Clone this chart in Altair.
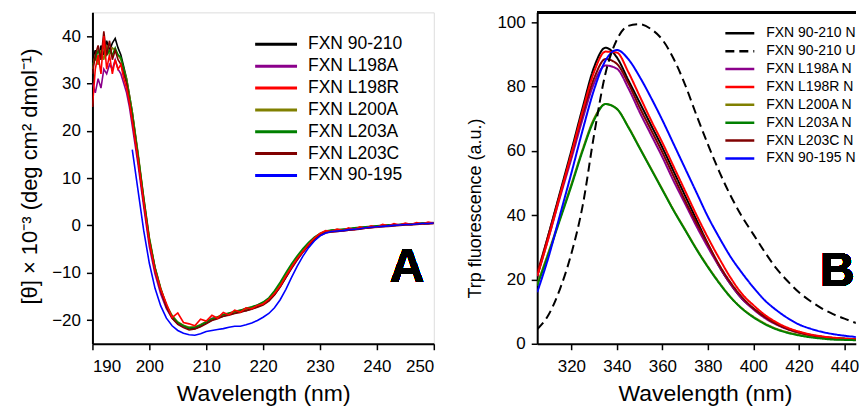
import altair as alt
import pandas as pd

FONT = "Liberation Sans"

# ---------------- Panel A : CD spectra ----------------
cd_nm = [190.0, 190.5, 191.0, 191.5, 192.0, 192.5, 193.0, 193.5, 194.0, 194.5,
         195.0, 195.5, 196.0, 196.5, 197.0,
         198, 199, 200, 201, 202, 203, 204, 205, 206, 207, 208, 209, 210, 211, 212,
         213, 214, 215, 216, 217, 218, 219, 220, 221, 222, 223, 224, 225, 226, 227,
         228, 229, 230, 231, 232, 233, 234, 235, 236, 237, 238, 239, 240, 241, 242,
         243, 244, 245, 246, 247, 248, 249, 250]

cd_90_210 = [35, 37, 34, 38, 36, 39, 37, 38.5, 39.5, 37.5, 36, 33.5, 31, 27.5, 24,
             15, 5.5, -3, -9, -13.5, -17, -19.3, -20.6, -21.3, -21.8, -21.8, -21.3, -20.6, -20, -19.5,
             -19.2, -18.8, -18.5, -18.2, -18, -17.6, -17.2, -16.6, -15.9, -14.6, -12.9, -10.9, -8.9, -7.1, -5.5,
             -4.1, -2.9, -1.9, -1.3, -1.1, -1.0, -0.9, -0.8, -0.6, -0.5, -0.4, -0.3, -0.2, -0.1, 0,
             0.1, 0.2, 0.3, 0.3, 0.4, 0.5, 0.5, 0.6]
cd_l198a = [30, 28, 31, 29, 33, 32, 34, 33, 35, 33, 32, 30, 28, 25, 21,
            13, 4, -4.5, -10.3, -14.5, -17.6, -19.6, -20.8, -21.4, -21.5, -21.6, -21.0, -20.4, -19.6, -19.4,
            -18.9, -18.7, -18.2, -18.0, -17.6, -17.4, -16.8, -16.4, -15.7, -14.6, -13.0, -11.0, -9.1, -7.3, -5.7,
            -4.3, -3.1, -2.2, -1.6, -1.4, -1.3, -1.2, -1.0, -0.9, -0.7, -0.6, -0.5, -0.3, -0.2, -0.1,
            0.0, 0.1, 0.2, 0.2, 0.3, 0.3, 0.4, 0.4]
cd_l198r = [25, 33, 36, 32, 40, 33, 36, 32, 35, 33, 34, 31, 29, 26, 22,
            14, 5, -3.5, -9.5, -13.5, -16.5, -19.5, -18.5, -20.5, -20.8, -21.2, -19.8, -20.2, -19.0, -19.6,
            -18.4, -18.9, -17.9, -18.3, -17.4, -17.6, -16.9, -16.6, -15.6, -14.4, -12.8, -10.7, -8.8, -7.0, -5.5,
            -4.0, -2.7, -1.7, -1.1, -1.3, -0.8, -1.1, -0.5, -0.9, -0.3, -0.6, -0.1, -0.4, 0.2, -0.1,
            0.4, 0.1, 0.5, 0.2, 0.6, 0.3, 0.7, 0.5]
cd_l200a = [33, 36, 34, 37, 35, 38, 36, 37.5, 37, 36, 35, 33, 31, 27.5, 24,
            15.5, 6, -2.5, -8.8, -13.2, -16.8, -19.0, -20.4, -21.1, -21.5, -21.4, -21.0, -20.3, -19.8, -19.3,
            -18.9, -18.6, -18.3, -18.0, -17.7, -17.3, -16.9, -16.3, -15.5, -14.1, -12.4, -10.4, -8.5, -6.7, -5.2,
            -3.8, -2.7, -1.8, -1.3, -1.1, -1.0, -0.9, -0.7, -0.6, -0.5, -0.4, -0.3, -0.2, -0.1, 0.0,
            0.1, 0.1, 0.2, 0.3, 0.3, 0.4, 0.4, 0.5]
cd_l203a = [34, 35, 37, 35, 38, 36, 37, 36, 37.5, 36, 35.5, 33, 30.5, 27, 23.5,
            15, 6, -2.8, -9.0, -13.4, -16.9, -19.2, -20.5, -21.2, -21.7, -21.5, -21.1, -20.4, -19.7, -19.4,
            -18.8, -18.5, -18.2, -17.9, -17.5, -17.2, -16.8, -16.2, -15.3, -13.8, -12.0, -10.0, -8.1, -6.4, -4.9,
            -3.6, -2.5, -1.7, -1.2, -1.0, -0.9, -0.8, -0.7, -0.5, -0.4, -0.3, -0.2, -0.1, 0.0, 0.1,
            0.1, 0.2, 0.3, 0.3, 0.4, 0.4, 0.5, 0.5]
cd_l203c = [32, 36, 38, 35, 41, 36, 39, 35, 37, 35, 34, 32, 30, 26, 22.5,
            14, 5, -3.5, -9.5, -13.8, -17.3, -19.6, -20.9, -21.6, -22.1, -21.9, -21.4, -20.8, -20.1, -19.7,
            -19.2, -19.0, -18.6, -18.4, -18.0, -17.7, -17.3, -16.8, -16.0, -14.7, -13.0, -11.0, -9.0, -7.2, -5.6,
            -4.2, -3.0, -2.0, -1.5, -1.4, -1.3, -1.2, -1.0, -0.9, -0.8, -0.6, -0.5, -0.4, -0.3, -0.2,
            -0.1, 0.0, 0.1, 0.1, 0.2, 0.3, 0.3, 0.4]

cd_nm_195 = [197, 198, 199, 200, 201, 202, 203, 204, 205, 206, 207, 208, 209, 210, 211,
             212, 213, 214, 215, 216, 217, 218, 219, 220, 221, 222, 223, 224, 225, 226,
             227, 228, 229, 230, 231, 232, 233, 234, 235, 236, 237, 238, 239, 240, 241,
             242, 243, 244, 245, 246, 247, 248, 249, 250]
cd_90_195 = [16, 7.5, -1, -8, -13.3, -17, -19.6, -21.2, -22.2, -22.8, -23.1, -23.2, -22.9, -22.4, -22.2,
             -22.0, -21.8, -21.5, -21.3, -21.3, -21.0, -20.6, -20.1, -19.4, -18.6, -17.4, -15.7, -13.5, -11.0, -8.6,
             -6.5, -4.7, -3.3, -2.2, -1.6, -1.3, -1.2, -1.1, -0.9, -0.8, -0.7, -0.5, -0.4, -0.3, -0.2,
             -0.1, 0.0, 0.1, 0.2, 0.2, 0.3, 0.4, 0.4, 0.5]

seriesA = ["FXN 90-210", "FXN L198A", "FXN L198R", "FXN L200A", "FXN L203A", "FXN L203C", "FXN 90-195"]
colorsA = ["#000000", "#8b008b", "#ff0000", "#808000", "#008000", "#800000", "#0000ff"]

# ---------------- Panel B : Trp fluorescence ----------------
fl_nm = [305, 310, 315, 320, 325, 330, 335, 340, 345, 350, 355, 360, 365, 370, 375,
         380, 385, 390, 395, 400, 405, 410, 415, 420, 425, 430, 435, 440, 445, 450]
fl_90_210_n = [21, 34, 47, 60, 73.5, 86, 92, 89, 82, 75, 68, 61, 53.5, 46, 38.5,
               31, 24, 18.5, 14, 11, 8.5, 6.3, 4.7, 3.6, 2.8, 2.2, 1.8, 1.6, 1.4, 1.3]
fl_90_210_u = [4.5, 9, 17, 28, 43, 65, 84, 94.5, 98.8, 99.3, 97.8, 94.5, 88.5, 80.5, 71,
               62, 53.5, 46, 39.5, 34, 28.5, 23.5, 19.5, 16, 13.3, 11, 9.2, 7.8, 6.5, 5.5]
fl_l198a_n = [21, 33, 45.5, 57.5, 70, 81, 86.5, 85.5, 79.5, 72, 65, 58, 50.5, 43.5, 36.5,
              30, 24, 18.5, 14, 10.7, 8, 6, 4.5, 3.4, 2.6, 2, 1.7, 1.4, 1.3, 1.2]
fl_l198r_n = [21, 33, 46, 59, 72.5, 84.5, 90.8, 90.5, 84.5, 77, 69.5, 62.5, 55, 47.5, 40,
              33, 26.5, 20.5, 15.5, 12, 9, 6.7, 5, 3.8, 2.9, 2.3, 1.9, 1.6, 1.4, 1.3]
fl_l200a_n = [18.5, 28.5, 39, 49.5, 60.5, 70, 74.5, 73, 67.5, 61, 54.5, 48, 41.5, 35.5, 29.5,
              24, 19, 14.5, 11, 8.4, 6.3, 4.7, 3.6, 2.8, 2.2, 1.8, 1.5, 1.3, 1.2, 1.1]
fl_l203a_n = [18, 28, 38.5, 49, 60, 69.5, 74.5, 73, 67.3, 60.8, 54.3, 47.8, 41.3, 35.3, 29.3,
              23.8, 18.8, 14.4, 10.9, 8.2, 6.1, 4.5, 3.4, 2.6, 2, 1.6, 1.3, 1.2, 1.1, 1]
fl_l203c_n = [22, 34, 46.5, 59, 71.5, 82.5, 88.5, 87, 81, 73.5, 66.5, 59.5, 52, 44.5, 37.5,
              31, 24.5, 19, 14.5, 11, 8.3, 6.2, 4.6, 3.5, 2.7, 2.1, 1.7, 1.5, 1.3, 1.2]
fl_90_195_n = [16, 27, 40, 53, 66.5, 79, 88, 91.3, 88.5, 83, 76.5, 69.5, 62, 54.5, 47,
               39.5, 33, 27, 22, 17.5, 13.5, 10.5, 8, 6, 4.7, 3.7, 3, 2.5, 2.1, 1.8]

seriesB = ["FXN 90-210 N", "FXN 90-210 U", "FXN L198A N", "FXN L198R N",
           "FXN L200A N", "FXN L203A N", "FXN L203C N", "FXN 90-195 N"]
colorsB = ["#000000", "#000000", "#8b008b", "#ff0000", "#808000", "#008000", "#800000", "#0000ff"]
dashesB = [[1, 0], [9, 5], [1, 0], [1, 0], [1, 0], [1, 0], [1, 0], [1, 0]]

# axis domains (data coordinates)
xA_dom = [190, 250]
yA_dom = [-25, 45]
xB_dom = [305, 445]
yB_dom = [0, 103]

# ---------------- tables ----------------
def long(xs, ys, name, key):
    return [{"nm": x, "value": y, "series": name, "k": key} for x, y in zip(xs, ys)]

rowsA = []
for key, (name, ys) in enumerate([
        ("FXN 90-210", cd_90_210), ("FXN L198A", cd_l198a), ("FXN L200A", cd_l200a),
        ("FXN L203A", cd_l203a), ("FXN L203C", cd_l203c), ("FXN L198R", cd_l198r)]):
    rowsA += long(cd_nm, ys, name, key)
rowsA += long(cd_nm_195, cd_90_195, "FXN 90-195", 6)
dfA = pd.DataFrame(rowsA)

rowsB = []
for key, (name, ys) in enumerate([
        ("FXN 90-210 N", fl_90_210_n), ("FXN L198A N", fl_l198a_n), ("FXN L200A N", fl_l200a_n),
        ("FXN L203C N", fl_l203c_n), ("FXN L198R N", fl_l198r_n), ("FXN L203A N", fl_l203a_n),
        ("FXN 90-195 N", fl_90_195_n), ("FXN 90-210 U", fl_90_210_u)]):
    rowsB += long(fl_nm, ys, name, key)
dfB = pd.DataFrame(rowsB)

LINE_PATH = "M-4,0H4"

axis_common = dict(
    domainColor="black", domainWidth=2, tickColor="black", tickWidth=1.5, tickSize=6,
    labelFont=FONT, labelFontSize=17, labelColor="black",
    titleFont=FONT, titleFontWeight="normal", titleColor="black",
    grid=False,
)

# Panel A
linesA = alt.Chart(dfA).mark_line(strokeWidth=1.6, clip=True).encode(
    x=alt.X("nm:Q", scale=alt.Scale(domain=xA_dom, nice=False, zero=False),
            axis=alt.Axis(title="Wavelength (nm)", values=[190, 200, 210, 220, 230, 240, 250],
                          labelPadding=9, titlePadding=8, titleFontSize=23, **axis_common)),
    y=alt.Y("value:Q", scale=alt.Scale(domain=yA_dom, nice=False, zero=False),
            axis=alt.Axis(title="[θ] × 10⁻³ (deg cm² dmol⁻¹)", values=[-20, -10, 0, 10, 20, 30, 40],
                          labelPadding=6, titlePadding=10, titleFontSize=22, titleY=164, **axis_common)),
    color=alt.Color("series:N", scale=alt.Scale(domain=seriesA, range=colorsA),
                    legend=alt.Legend(title=None, orient="none", legendX=175.25, legendY=23.25,
                                      symbolType=LINE_PATH, symbolSize=110, symbolStrokeWidth=3,
                                      labelFont=FONT, labelFontSize=17.5, labelColor="black",
                                      labelOffset=23.25, rowPadding=2.9, padding=0)),
    detail="k:N",
)
labelA = alt.Chart(dfA).mark_text(text="A", font=FONT, fontSize=48, fontWeight="bold",
                                  align="center", baseline="alphabetic", color="black").encode(
    x=alt.datum(245.3), y=alt.datum(-11.9))
panelA = alt.layer(linesA, labelA).properties(width=342, height=332)

# Panel B
legB = dict(title=None, orient="none", legendX=196, legendY=14,
            symbolType=LINE_PATH, symbolSize=52.5, symbolStrokeWidth=2.5,
            labelFont=FONT, labelFontSize=14, labelColor="black",
            labelOffset=19.5, rowPadding=3.9, padding=0)
linesB = alt.Chart(dfB).mark_line(strokeWidth=2, clip=True, interpolate="monotone").encode(
    x=alt.X("nm:Q", scale=alt.Scale(domain=xB_dom, nice=False, zero=False),
            axis=alt.Axis(title="Wavelength (nm)", values=[320, 340, 360, 380, 400, 420, 440],
                          labelPadding=9, titlePadding=8, titleFontSize=23, titleX=168,
                          **axis_common)),
    y=alt.Y("value:Q", scale=alt.Scale(domain=yB_dom, nice=False, zero=False),
            axis=alt.Axis(title="Trp fluorescence (a.u.)", values=[0, 20, 40, 60, 80, 100],
                          labelPadding=6, titlePadding=12, titleFontSize=18, titleY=196, **axis_common)),
    color=alt.Color("series:N", scale=alt.Scale(domain=seriesB, range=colorsB),
                    legend=alt.Legend(**legB)),
    strokeDash=alt.StrokeDash("series:N", scale=alt.Scale(domain=seriesB, range=dashesB),
                              legend=alt.Legend(**legB)),
    detail="k:N",
)
topB = alt.Chart(dfB).mark_rule(color="black", strokeWidth=2).encode(
    x=alt.datum(xB_dom[0]), x2=alt.datum(xB_dom[1]), y=alt.datum(yB_dom[1]))
labelB = alt.Chart(dfB).mark_text(text="B", font=FONT, fontSize=48, fontWeight="bold",
                                  align="right", baseline="alphabetic", color="black",
                                  clip=True).encode(
    x=alt.datum(444.5), y=alt.datum(17.9))
panelB = alt.layer(linesB, topB, labelB).properties(
    width=319.2, height=332, view=alt.ViewBackground(strokeOpacity=0))

chart = alt.hconcat(panelA, panelB, spacing=30.6).resolve_scale(
    color="independent", strokeDash="independent", x="independent", y="independent"
).properties(
    padding={"left": 9.6, "top": 3, "right": 0, "bottom": 0}
).configure_view(stroke="black", strokeWidth=2).configure(background="white")

chart.save("out.html", embed_options={"renderer": "svg", "actions": False})
